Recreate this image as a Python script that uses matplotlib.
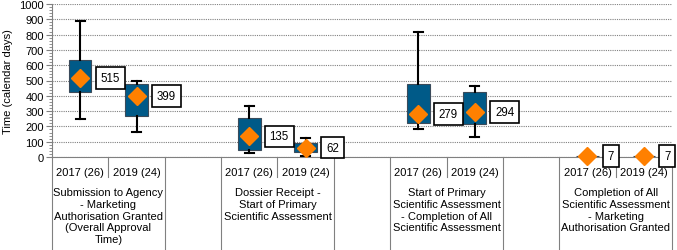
import matplotlib
matplotlib.use("Agg")
import matplotlib.pyplot as plt
from matplotlib.ticker import MultipleLocator
import matplotlib.transforms as mtransforms

plt.rcParams['font.family'] = ['Liberation Sans', 'DejaVu Sans']

# ---- data ----
groups = ["Submission to Agency\n- Marketing\nAuthorisation Granted\n(Overall Approval\nTime)",
          "Dossier Receipt -\nStart of Primary\nScientific Assessment",
          "Start of Primary\nScientific Assessment\n- Completion of All\nScientific Assessment",
          "Completion of All\nScientific Assessment\n- Marketing\nAuthorisation Granted"]
years = ["2017 (26)", "2019 (24)"]
whislo = [250, 165, 28, 9, 185, 133, 7, 7]
q1 = [425, 270, 48, 35, 220, 214, 7, 7]
q3 = [635, 475, 257, 92, 475, 425, 7, 7]
whishi = [890, 495, 333, 126, 815, 466, 7, 7]
medians = [515, 399, 135, 62, 279, 294, 7, 7]
yticks = list(range(0, 1001, 100))

# ---- figure ----
fig = plt.figure(figsize=(6.77, 2.51), dpi=100)
ax = fig.add_axes([52/677, 1-158/251, 620/677, 153/251])

positions = []
for g in range(len(groups)):
    positions += [g*3, g*3+1]

stats = []
for i in range(len(medians)):
    stats.append(dict(med=medians[i], q1=q1[i], q3=q3[i], whislo=whislo[i], whishi=whishi[i]))

ax.bxp(stats, positions=positions, widths=0.4, patch_artist=True, showfliers=False,
       boxprops=dict(facecolor='#005A88', edgecolor='#3a4a5a', linewidth=0.8),
       whiskerprops=dict(color='black', linewidth=1.5),
       capprops=dict(color='black', linewidth=1.5),
       medianprops=dict(linewidth=0), capwidths=0.16, zorder=3)

ax.plot(positions, medians, linestyle='none', marker='D', markersize=9.5,
        markerfacecolor='#FF8000', markeredgecolor='#FF8000', zorder=4, clip_on=False)

for x, m in zip(positions, medians):
    ax.text(x + 0.36, m, str(m), ha='left', va='center', fontsize=8.3, zorder=5,
            bbox=dict(boxstyle='square,pad=0.42', facecolor='white', edgecolor='black', linewidth=1.2))

ax.set_xlim(-0.5, 10.5)
ax.set_ylim(0, 1000)
ax.set_yticks(yticks)
ax.yaxis.set_minor_locator(MultipleLocator(20))
ax.tick_params(axis='y', which='major', labelsize=8, length=4, color='#808080', pad=2)
ax.tick_params(axis='y', which='minor', length=2, color='#808080')
ax.set_xticks([])
ax.grid(axis='y', color='#808080', linestyle=(0, (1, 1)), linewidth=0.8, zorder=0)
ax.set_axisbelow(True)
for s in ['top', 'right']:
    ax.spines[s].set_visible(False)
ax.spines['left'].set_color('#808080')
ax.spines['bottom'].set_color('#808080')
ax.set_ylabel("Time (calendar days)", fontsize=8, labelpad=4)

# category axis table
trans = mtransforms.blended_transform_factory(ax.transData, ax.transAxes)
bottom_frac = -93/153
for x in [-0.5, 1.5, 2.5, 4.5, 5.5, 7.5, 8.5, 10.5]:
    ax.plot([x, x], [0, bottom_frac], transform=trans, color='#808080', linewidth=0.8,
            clip_on=False)
for g in range(len(groups)):
    xm = g*3 + 0.5
    ax.plot([xm, xm], [0, -20/153], transform=trans, color='#808080', linewidth=0.8,
            clip_on=False)
    for k, yr in enumerate(years):
        ax.text(g*3 + k, -14.5/153, yr, transform=trans, ha='center', va='center',
                fontsize=8)
    ax.text(xm, -30/153, groups[g], transform=trans, ha='center', va='top',
            fontsize=8, linespacing=1.22)

fig.savefig("out.png", dpi=100)
